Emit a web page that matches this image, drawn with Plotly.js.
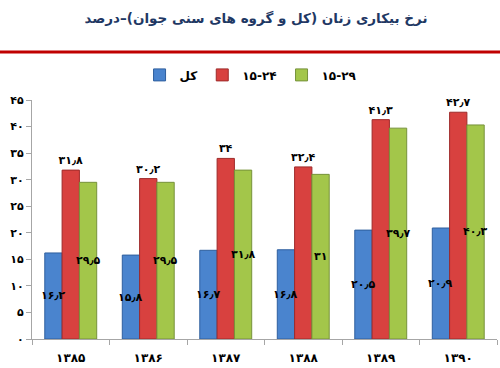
<!DOCTYPE html>
<html>
<head>
<meta charset="utf-8">
<script src="https://cdn.plot.ly/plotly-3.0.1.min.js"></script>
<style>html,body{margin:0;padding:0;background:#fff;}#chart{width:500px;height:368px;}</style>
</head>
<body>
<div id="chart"></div>
<script>
var years = ["۱۳۸۵", "۱۳۸۶", "۱۳۸۷", "۱۳۸۸", "۱۳۸۹", "۱۳۹۰"];
var seriesNames = ["کل", "۱۵-۲۴", "۱۵-۲۹"];
var totalRate = [16.2, 15.8, 16.7, 16.8, 20.5, 20.9];
var rate15to24 = [31.8, 30.2, 34, 32.4, 41.3, 42.7];
var rate15to29 = [29.5, 29.5, 31.8, 31, 39.7, 40.3];
var yTickVals = [0, 5, 10, 15, 20, 25, 30, 35, 40, 45];

function fa(n) {
  var d = "۰۱۲۳۴۵۶۷۸۹";
  return String(n).replace(/[0-9]/g, function (c) { return d[+c]; }).replace(".", "٫");
}

var labelFont = {family: "DejaVu Sans", size: 11, color: "#000", weight: "bold"};
function bar(name, vals, color, line, withText) {
  var t = {
    type: "bar", name: name, x: years, y: vals,
    marker: {color: color, line: {color: line, width: 1}},
    hoverinfo: "skip", cliponaxis: false
  };
  if (withText) {
    t.text = vals.map(fa);
    t.textposition = "outside";
    t.textangle = 0;
    t.constraintext = "none";
    t.textfont = labelFont;
    t.outsidetextfont = labelFont;
  } else {
    t.textposition = "none";
  }
  return t;
}

var data = [
  bar(seriesNames[0], totalRate, "#4A84CE", "#2F5F9E", false),
  bar(seriesNames[1], rate15to24, "#D8413F", "#9E2B2A", true),
  bar(seriesNames[2], rate15to29, "#A3C64A", "#76923A", false)
];

// mid-bar labels for the first and third series (Excel style)
var barPx = 465 / years.length * 0.67 / 3;
var annotations = [];
function midLabels(vals, shift) {
  vals.forEach(function (v, i) {
    annotations.push({
      x: years[i], y: v / 2, xref: "x", yref: "y",
      text: fa(v), showarrow: false, xshift: shift,
      font: labelFont
    });
  });
}
midLabels(totalRate, -barPx);
midLabels(rate15to29, barPx);

var layout = {
  width: 500, height: 368,
  margin: {l: 32, r: 3, t: 100, b: 29},
  paper_bgcolor: "#fff", plot_bgcolor: "#fff",
  font: {family: "DejaVu Sans", color: "#000"},
  title: {
    text: "<b>نرخ بیکاری زنان (کل و گروه های سنی جوان)–درصد</b>",
    font: {family: "DejaVu Sans", size: 13.5, color: "#1F3864", weight: "bold"},
    x: 0.512, xanchor: "center", y: 0.951, yanchor: "middle"
  },
  barmode: "group", bargap: 0.33, bargroupgap: 0,
  showlegend: true,
  legend: {
    orientation: "h", x: 0.47, xanchor: "center", y: 1.105, yanchor: "middle",
    font: {family: "DejaVu Sans", size: 12, color: "#000", weight: "bold"},
    itemwidth: 30, traceorder: "normal"
  },
  xaxis: {
    type: "category", showgrid: false, zeroline: false,
    showline: true, linecolor: "#A6A6A6", linewidth: 1,
    ticks: "outside", tickson: "boundaries", ticklen: 5, tickcolor: "#A6A6A6",
    tickfont: {family: "DejaVu Sans", size: 12, color: "#000", weight: "bold"},
    ticklabelstandoff: 8
  },
  yaxis: {
    range: [0, 45], showgrid: false, zeroline: false,
    showline: true, linecolor: "#A6A6A6", linewidth: 1,
    ticks: "outside", ticklen: 5, tickcolor: "#A6A6A6",
    tickvals: yTickVals, ticktext: yTickVals.map(fa),
    tickfont: {family: "DejaVu Sans", size: 11, color: "#000", weight: "bold"}
  },
  annotations: annotations,
  shapes: [{
    type: "line", xref: "paper", yref: "paper",
    x0: -0.1, x1: 1.1, y0: 1.2008, y1: 1.2008,
    line: {color: "#C00000", width: 3}
  }]
};

Plotly.newPlot("chart", data, layout, {staticPlot: true, displayModeBar: false});
</script>
</body>
</html>
